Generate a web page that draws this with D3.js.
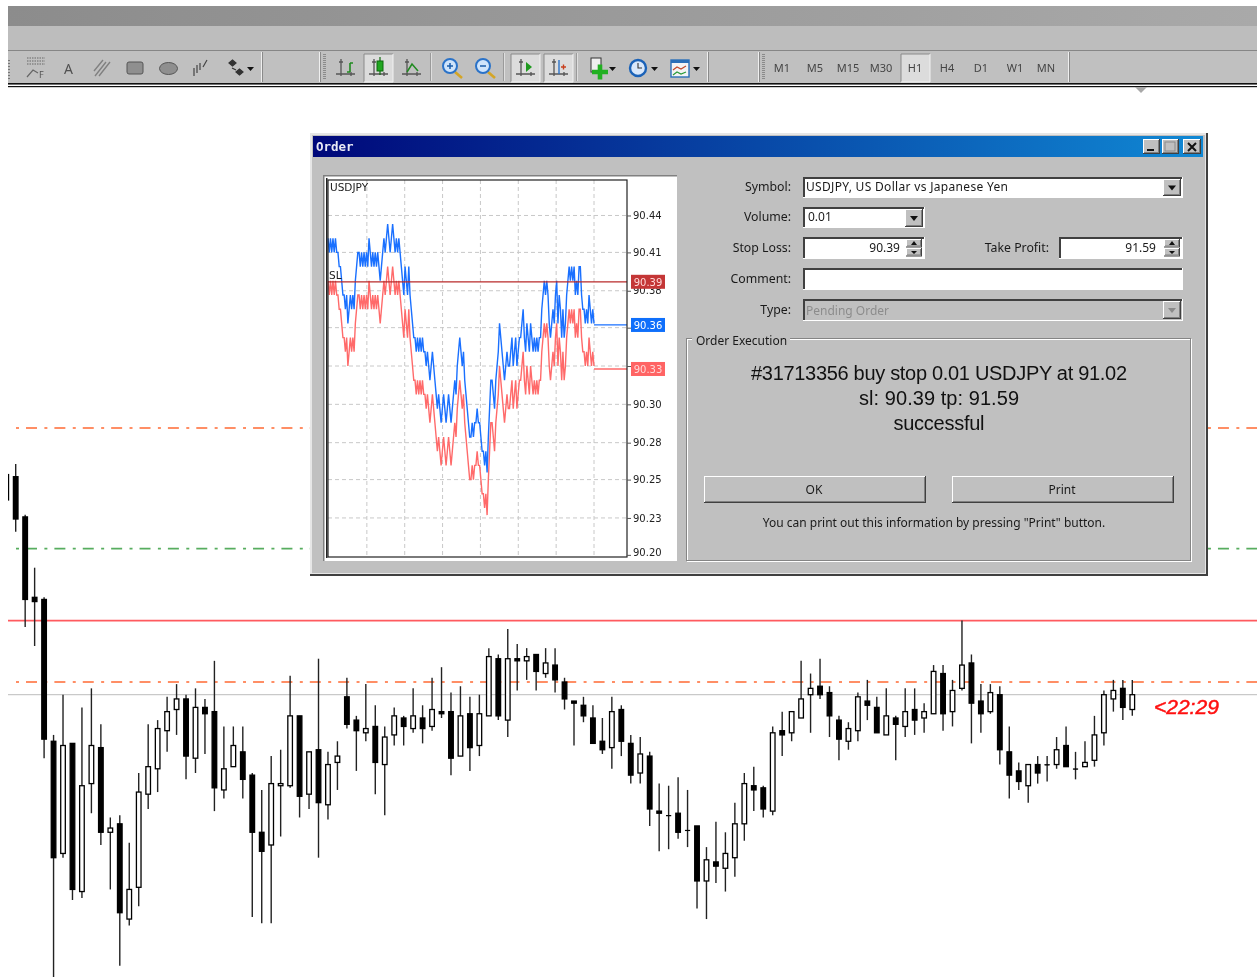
<!DOCTYPE html>
<html>
<head>
<meta charset="utf-8">
<title>USDJPY H1 order</title>
<script src="https://cdn.jsdelivr.net/npm/d3@7"></script>
<style>
html, body { margin: 0; padding: 0; background: #fff; overflow: hidden; }
svg { display: block; filter: blur(0.4px); }
text { font-family: "Noto Sans", sans-serif; fill: #1a1a1a; }
</style>
</head>
<body>
<div id="chart"></div>
<script>
// H1 candles
let highs = [91.37,91.42,91.18,90.93,90.79,90.14,90.33,90.10,90.27,90.36,
    90.19,89.75,89.76,89.63,89.96,90.19,90.21,90.32,90.38,90.33,
    90.36,90.31,90.49,90.18,90.18,90.18,89.96,89.88,90.04,90.07,
    90.42,90.23,90.06,90.50,90.06,90.11,90.41,90.23,90.38,90.28,
    90.18,90.27,90.23,90.36,90.28,90.41,90.46,90.34,90.37,90.32,
    90.33,90.55,90.52,90.64,90.57,90.55,90.52,90.55,90.55,90.41,
    90.30,90.32,90.28,90.22,90.32,90.28,90.14,90.13,90.06,89.91,
    89.90,89.94,89.88,89.71,89.61,89.73,89.68,89.82,89.96,89.99,
    89.90,90.18,90.25,90.25,90.49,90.43,90.50,90.37,90.23,90.20,
    90.34,90.40,90.32,90.36,90.23,90.36,90.36,90.29,90.47,90.47,
    90.40,90.68,90.52,90.38,90.38,90.37,90.18,90.01,90.00,90.04,
    90.04,90.13,90.18,90.06,90.11,90.23,90.35,90.40,90.40,90.40];
let lows = [91.25,91.10,90.65,90.56,90.03,88.99,89.56,89.36,89.37,89.77,
    89.62,89.41,89.05,89.24,89.33,89.79,89.87,90.06,90.14,89.93,
    89.96,90.05,89.78,89.84,89.99,89.84,89.28,89.25,89.25,89.66,
    89.89,89.75,89.79,89.56,89.74,89.88,90.17,89.97,90.11,89.86,
    89.76,90.09,90.09,90.15,90.10,90.16,90.22,89.95,90.04,89.97,
    90.04,90.23,90.21,90.13,90.35,90.40,90.35,90.41,90.34,90.26,
    90.09,90.20,90.10,90.05,89.98,90.04,89.91,89.91,89.71,89.59,
    89.60,89.65,89.61,89.32,89.27,89.44,89.40,89.47,89.64,89.78,
    89.75,89.76,90.04,90.11,90.22,90.15,90.31,90.13,90.02,90.07,
    90.11,90.21,90.15,90.14,90.02,90.13,90.14,90.15,90.24,90.16,
    90.18,90.35,90.10,90.15,90.24,90.00,89.84,89.88,89.82,89.91,
    89.92,89.98,89.99,89.93,89.99,89.99,90.09,90.25,90.21,90.23];
let opens = [91.37,91.36,91.17,90.79,90.78,90.11,89.58,90.10,89.40,89.91,
    90.08,89.68,89.72,89.27,89.42,89.86,89.98,90.16,90.26,90.31,
    90.03,90.27,90.25,89.88,89.99,90.06,89.95,89.68,89.62,89.90,
    89.90,90.23,89.86,90.07,89.81,90.01,90.32,90.21,90.15,90.18,
    90.00,90.14,90.22,90.17,90.22,90.18,90.25,90.25,90.04,90.24,
    90.09,90.23,90.50,90.21,90.50,90.49,90.52,90.43,90.47,90.39,
    90.30,90.28,90.22,90.11,90.08,90.26,90.10,89.96,90.04,89.78,
    89.76,89.77,89.69,89.71,89.45,89.54,89.51,89.56,89.72,89.90,
    89.89,89.78,90.16,90.15,90.22,90.33,90.37,90.34,90.21,90.11,
    90.16,90.30,90.27,90.14,90.22,90.18,90.26,90.22,90.24,90.43,
    90.25,90.36,90.48,90.30,90.25,90.33,90.06,89.97,89.90,90.00,
    90.00,90.00,90.09,89.98,89.99,90.02,90.15,90.31,90.36,90.26];
let closes = [91.25,91.16,90.78,90.77,90.12,89.56,90.09,89.41,89.90,90.09,
    89.68,89.70,89.30,89.41,89.87,89.99,90.17,90.25,90.31,90.04,
    90.27,90.24,89.89,89.98,90.09,89.93,89.68,89.59,89.91,89.91,
    90.23,89.85,90.06,89.82,90.00,90.04,90.19,90.16,90.17,90.01,
    90.13,90.23,90.18,90.23,90.17,90.26,90.24,90.03,90.23,90.08,
    90.24,90.51,90.23,90.50,90.49,90.51,90.44,90.48,90.40,90.31,
    90.29,90.23,90.10,90.07,90.25,90.11,89.95,90.05,89.79,89.77,
    89.76,89.68,89.69,89.45,89.55,89.52,89.58,89.72,89.91,89.88,
    89.79,90.15,90.14,90.25,90.31,90.36,90.33,90.23,90.12,90.17,
    90.32,90.28,90.15,90.23,90.19,90.25,90.21,90.25,90.44,90.24,
    90.35,90.47,90.29,90.24,90.34,90.07,89.95,89.92,90.00,89.96,
    90.00,90.07,89.99,89.98,90.01,90.14,90.33,90.35,90.27,90.33];

// price lines on the main chart
let takeProfit = 91.59;
let entryPrice = 91.02;
let stopLoss = 90.39;
let otherLevel = 90.68;
let bidLevel = 90.33;

// mini tick chart of the dialog, in points above 90.00
let askPoints = [42,41,42,41,42,41,42,41, 41,40,40, 39,38, 38,37,38,36, 37,38,37,38,37, 39,40,41,
    41,40,41,40,41,40,41,40, 42,41, 40,41,40,41,40,41, 40,39, 40,41, 42,41,42,43, 42,41,42,43,
    42,41,42,41,42,41, 40,39, 38,40,39,38,40,38, 37,36,35, 35,34,35,34,35,34,35,34,
    34,33,34,33,32,33,34, 33,32,31,30,31, 30,29,30,31,30,29,30,31,30,29,30, 31,32,31, 33,34,35,
    34,33,34,32, 31,30,29,28, 28,29,28,29, 29,30,29, 29,28,27, 27,26,27,25.5, 28,30,32, 32,31,30,
    32,33,34,36, 35,34,33,32, 33,34,33,33, 34,35,33,34,35,33,34,35, 35,36,37,
    35,34,36,35,34,36,35,34, 35,34,35,34,35, 35,37,38,39, 38,39,38, 36,35,36,37,36,38, 39,36,38,
    37,35,37,35,36, 38,39,40,39,40,39,40, 38,39,38,40, 40,38,37, 37,36,37,36,38,37,36,37,36];
let bidPoints = [39,38,39,38,39,38,39,38, 38,37,37, 36,35, 35,34,35,33, 34,35,34,35,34, 36,37,38,
    38,37,38,37,38,37,38,37, 39,38, 37,38,37,38,37,38, 37,36, 37,38, 39,38,39,40, 39,38,39,40,
    39,38,39,38,39,38, 37,36, 35,37,36,35,37,35, 34,33,32, 32,31,32,31,32,31,32,31,
    31,30,31,30,29,30,31, 30,29,28,27,28, 27,26,27,28,27,26,27,28,27,26,27, 28,29,28, 30,31,32,
    31,30,31,29, 28,27,26,25, 25,26,25,26, 26,27,26, 26,25,24, 24,23,24,22.5, 25,27,29, 29,28,27,
    29,30,31,33, 32,31,30,29, 30,31,30,30, 31,32,30,31,32,30,31,32, 32,33,34,
    32,31,33,32,31,33,32,31, 32,31,32,31,32, 32,34,35,36, 35,36,35, 33,32,33,34,33,35, 36,33,35,
    34,32,34,32,33, 35,36,37,36,37,36,37, 35,36,35,37, 37,35,34, 34,33,34,33,35,34,33,34,33];
let miniTickPrices = [90.436,90.41,90.383,90.357,90.33,90.303,90.276,90.25,90.223,90.197];
let miniTickLabels = ["90.44","90.41","90.38","90.36","90.33","90.30","90.28","90.25","90.23","90.20"];
let miniGridTimes = [1,2,3,4,5,6,7];
let miniFlags = ["90.39","90.36","90.33"];
let miniFlagPrices = [90.3893,90.3589,90.3279];
let miniFlagColors = ["#c43636","#0f6ffb","#ff6464"];

let timeframes = ["M1","M5","M15","M30","H1","H4","D1","W1","MN"];
let timeframeX = [782,815,848,881,915,947,981,1015,1046];

let width = 1257;
let height = 977;
let svg = d3.select("#chart").append("svg").attr("width", width).attr("height", height);
svg.append("rect").attr("width", width).attr("height", height).attr("fill", "#fff");

// ---- main chart ----
let x = d3.scaleLinear().domain([0, highs.length - 1]).range([6.24, 1132.3]);
let y = d3.scaleLinear().domain([stopLoss, takeProfit]).range([682, 428]);

svg.append("clipPath").attr("id", "plot_clip").append("rect")
    .attr("x", 8).attr("y", 88).attr("width", width - 8).attr("height", height - 88);
let plot = svg.append("g").attr("clip-path", "url(#plot_clip)");

// level lines first, candles paint over them
function levelLine(price, color, dash, x0, w) {
    plot.append("line")
        .attr("x1", x0).attr("x2", width)
        .attr("y1", y(price)).attr("y2", y(price))
        .attr("stroke", color).attr("stroke-width", w)
        .attr("stroke-dasharray", dash);
}
levelLine(bidLevel, "#c9c9c9", null, 8, 1.3);
levelLine(otherLevel, "#ff5a5f", null, 8, 1.6);
levelLine(takeProfit, "#ff6a33", "3 7 11 7.38", 16, 1.4);
levelLine(entryPrice, "#57ad5f", "3 7 11 7.38", 16, 1.6);
levelLine(stopLoss, "#ff6a33", "3 7 11 7.38", 16, 1.4);

let candles = highs.map((h, i) => ({i: i, h: h, l: lows[i], o: opens[i], c: closes[i]}));

plot.selectAll(".wick").data(candles).enter().append("line")
    .attr("class", "wick")
    .attr("x1", d => x(d.i)).attr("x2", d => x(d.i))
    .attr("y1", d => y(d.h)).attr("y2", d => y(d.l))
    .attr("stroke", "#222").attr("stroke-width", 1.4);

let bodyWidth = 4.6;
plot.selectAll(".body").data(candles).enter().append("rect")
    .attr("class", "body")
    .attr("x", d => x(d.i) - bodyWidth / 2)
    .attr("width", bodyWidth)
    .attr("y", d => y(Math.max(d.o, d.c)))
    .attr("height", d => Math.max(0.6, Math.abs(y(d.o) - y(d.c))))
    .attr("fill", d => d.c > d.o ? "#fff" : "#000")
    .attr("stroke", "#000").attr("stroke-width", d => d.c == d.o ? 0.6 : 1.3);

svg.append("text").attr("x", 1154).attr("y", 714)
    .style("font-family", "'Liberation Sans'").style("font-style", "italic")
    .style("font-size", "21px").style("fill", "#ff1010")
    .style("stroke", "#ff1010").style("stroke-width", 0.5)
    .text("<22:29");

// ---- toolbar ----
let bar = svg.append("g");
let titleGrad = svg.append("linearGradient").attr("id", "top_grad");
titleGrad.append("stop").attr("offset", "0%").attr("stop-color", "#8c8c8c");
titleGrad.append("stop").attr("offset", "100%").attr("stop-color", "#a9a9a9");

function box(parent, bx, by, w, h, fill) {
    return parent.append("rect").attr("x", bx).attr("y", by).attr("width", w).attr("height", h).attr("fill", fill);
}
box(bar, 8, 6, width - 8, 20, "url(#top_grad)");
box(bar, 8, 26, width - 8, 24, "#bdbdbd");
box(bar, 8, 50, width - 8, 1, "#868686");
box(bar, 8, 51, width - 8, 32, "#c0c0c0");
box(bar, 8, 83, width - 8, 1.6, "#111");
box(bar, 8, 86, width - 8, 1.2, "#111");
bar.append("path").attr("d", "M1135,87 L1147,87 L1141,93 Z").attr("fill", "#a8a8a8");

function separator(sx) {
    box(bar, sx, 52, 1, 30, "#efefef");
    box(bar, sx + 1, 52, 1, 30, "#8a8a8a");
}
function groove(sx) {
    box(bar, sx - 1, 53, 1, 28, "#9a9a9a");
    box(bar, sx, 53, 1, 28, "#dedede");
}
function grip(gx) {
    for (let gy = 54; gy < 80; gy += 2) box(bar, gx, gy, 3, 1, "#8a8a8a");
}
[261, 319, 707, 758, 1068].forEach(separator);
[431, 504, 577].forEach(groove);
grip(323);
grip(762);
for (let gy = 60; gy < 80; gy += 3) box(bar, 8, gy, 2, 1, "#777");

function pressed(px) {
    box(bar, px - 14, 54, 29, 28, "#dcdcdc");
    bar.append("path").attr("d", `M${px - 14},82 V54 H${px + 15}`).attr("fill", "none").attr("stroke", "#8a8a8a");
    bar.append("path").attr("d", `M${px + 15},54 V82 H${px - 14}`).attr("fill", "none").attr("stroke", "#f2f2f2");
}
[378, 525, 558, 915].forEach(pressed);

function axesIcon(ax) {
    bar.append("path").attr("d", `M${ax - 4},59 V76 M${ax - 9},74 H${ax + 10} M${ax - 6},62 h4 M${ax + 6},72 v4`)
        .attr("fill", "none").attr("stroke", "#555").attr("stroke-width", 1.3);
}
function dropArrow(ax) {
    bar.append("path").attr("d", `M${ax - 3},67 h7 l-3.5,4 Z`).attr("fill", "#111");
}
function iconPath(d, stroke, fill, w) {
    bar.append("path").attr("d", d).attr("fill", fill || "none").attr("stroke", stroke).attr("stroke-width", w || 1.2);
}

// fibo
for (let fy = 58; fy < 66; fy += 3) {
    bar.append("line").attr("x1", 27).attr("x2", 45).attr("y1", fy).attr("y2", fy)
        .attr("stroke", "#666").attr("stroke-dasharray", "1.5 1");
}
iconPath("M27,77 L33,70 L38,73", "#666");
bar.append("text").attr("x", 39).attr("y", 78).style("font-size", "9px").style("fill", "#555").text("F");
// text, channel, rectangle, ellipse, wave, arrows
bar.append("text").attr("x", 64).attr("y", 74).style("font-size", "14px").style("fill", "#505050").text("A");
iconPath("M95,76 L106,62 M99,76 L110,62 M94,71 L103,60", "#808080", null, 1.4);
bar.append("rect").attr("x", 127).attr("y", 62).attr("width", 16).attr("height", 12).attr("rx", 2)
    .attr("fill", "#8f8f8f").attr("stroke", "#555");
bar.append("ellipse").attr("cx", 168.5).attr("cy", 68.5).attr("rx", 9).attr("ry", 6)
    .attr("fill", "#8f8f8f").attr("stroke", "#555");
iconPath("M194,76 V68 M197,73 V65 M200,70 V63 M203,67 L207,60", "#444");
iconPath("M229,63 l3.5,-3 l3.5,3 l-3.5,3 Z M236,72 l3.5,-3 l3.5,3 l-3.5,3 Z M232,68 l4,2", "#333", "#333");
dropArrow(250);
// chart types
axesIcon(345);
iconPath("M350,63 V72 M350,63 h3 M350,72 h-3", "#1f8a1f", null, 1.6);
axesIcon(378);
iconPath("M380,57 V75", "#0d6a0d");
bar.append("rect").attr("x", 377).attr("y", 61).attr("width", 6).attr("height", 10).attr("fill", "#21a721").attr("stroke", "#0d6a0d");
axesIcon(411);
iconPath("M407,72 L412,64 L418,71", "#1f8a1f", null, 1.5);
// zoom
function zoomIcon(zx, plus) {
    iconPath(`M${zx + 4},72 L${zx + 11},78`, "#d4a526", null, 2.6);
    bar.append("circle").attr("cx", zx - 1).attr("cy", 66).attr("r", 7).attr("fill", "#cfe4fb").attr("stroke", "#2a72c8").attr("stroke-width", 2);
    iconPath(plus ? `M${zx - 4},66 h6 M${zx - 1},63 v6` : `M${zx - 4},66 h6`, "#1a5caa", null, 1.5);
}
zoomIcon(451, true);
zoomIcon(484, false);
axesIcon(525);
bar.append("path").attr("d", "M526,62 l6,5 l-6,5 Z").attr("fill", "#1f9a1f");
axesIcon(558);
iconPath("M559,60 V74", "#2a72c8", null, 1.4);
iconPath("M561,67 h5 M563.5,64.5 v5", "#c8401e", null, 1.4);
// new order, clock, templates
bar.append("rect").attr("x", 591).attr("y", 58).attr("width", 10).attr("height", 14).attr("fill", "#eee").attr("stroke", "#333");
iconPath("M592,72 h16 M600,64.5 v15", "#22b022", null, 4.6);
dropArrow(612);
bar.append("circle").attr("cx", 638).attr("cy", 68).attr("r", 8).attr("fill", "#d9e8fb").attr("stroke", "#1a62b8").attr("stroke-width", 2.4);
iconPath("M638,63 V68 H642", "#333", null, 1.1);
dropArrow(654);
bar.append("rect").attr("x", 671).attr("y", 60).attr("width", 18).attr("height", 17).attr("fill", "#f4f4f4").attr("stroke", "#2a6fb8").attr("stroke-width", 1.4);
box(bar, 671, 60, 18, 3, "#2a6fb8");
iconPath("M673,70 l4,-3 l4,2 l5,-3", "#c24a2a");
iconPath("M673,75 l4,-3 l4,2 l5,-2", "#2a9a3a");
dropArrow(696);

bar.selectAll(".tf").data(timeframes).enter().append("text")
    .attr("class", "tf")
    .attr("x", (d, i) => timeframeX[i]).attr("y", 72)
    .attr("text-anchor", "middle")
    .style("font-size", "11px").style("fill", "#444")
    .text(d => d);

// ---- order dialog ----
let dlg = svg.append("g");
box(dlg, 310, 133, 898, 443, "#404040");
box(dlg, 310, 133, 896, 441, "#e6e6e6");
box(dlg, 312, 135, 893, 438, "#c0c0c0");
let winGrad = svg.append("linearGradient").attr("id", "win_grad");
winGrad.append("stop").attr("offset", "0%").attr("stop-color", "#00087a");
winGrad.append("stop").attr("offset", "100%").attr("stop-color", "#1088d4");
box(dlg, 313, 136, 890, 21, "url(#win_grad)");
dlg.append("text").attr("x", 316).attr("y", 151)
    .style("font-family", "'DejaVu Sans Mono'").style("font-weight", "bold")
    .style("font-size", "12.5px").style("fill", "#e8e8f4")
    .text("Order");

function raised(g, bx, by, w, h) {
    box(g, bx, by, w, h, "#404040");
    box(g, bx, by, w - 1, h - 1, "#fff");
    box(g, bx + 1, by + 1, w - 2, h - 2, "#808080");
    box(g, bx + 1, by + 1, w - 3, h - 3, "#c0c0c0");
}
function sunken(g, bx, by, w, h, fill) {
    box(g, bx, by, w, h, "#fff");
    box(g, bx, by, w - 1, h - 1, "#404040");
    box(g, bx + 2, by + 2, w - 3, h - 3, fill);
}

// window buttons
raised(dlg, 1143, 139, 17, 15);
box(dlg, 1147, 149, 7, 2, "#111");
raised(dlg, 1162, 139, 17, 15);
dlg.append("rect").attr("x", 1165).attr("y", 142).attr("width", 10).attr("height", 9).attr("fill", "none").attr("stroke", "#8a8a8a");
raised(dlg, 1183, 139, 18, 15);
dlg.append("path").attr("d", "M1188,143 L1196,151 M1196,143 L1188,151").attr("stroke", "#111").attr("stroke-width", 2);

// mini chart panel
box(dlg, 324, 175, 353, 386, "#fff");
box(dlg, 323, 175, 354, 1.5, "#808080");
box(dlg, 323, 175, 1.5, 386, "#808080");
box(dlg, 326, 178, 1.5, 380, "#222");

let miniX = d3.scaleLinear().domain([0, askPoints.length - 1]).range([328, 594]);
let miniY = d3.scaleLinear().domain([90.33, 90.43]).range([366, 224]);
let gridX = d3.scaleLinear().domain([0, 7]).range([329, 594]);
let plotLeft = 328, plotRight = 627, plotTop = 180, plotBottom = 557;

let mini = dlg.append("g");
mini.selectAll(".gx").data(miniGridTimes).enter().append("line")
    .attr("class", "gx")
    .attr("x1", d => gridX(d)).attr("x2", d => gridX(d))
    .attr("y1", plotTop).attr("y2", plotBottom)
    .attr("stroke", "#c8c8c8").attr("stroke-dasharray", "4 3");
mini.selectAll(".gy").data(miniTickPrices.slice(0, 9)).enter().append("line")
    .attr("class", "gy")
    .attr("x1", plotLeft).attr("x2", plotRight)
    .attr("y1", d => miniY(d)).attr("y2", d => miniY(d))
    .attr("stroke", "#c8c8c8").attr("stroke-dasharray", "4 3");

let pointLine = d3.line().x((d, i) => miniX(i)).y(d => miniY(90 + d / 100));
mini.append("path").attr("d", pointLine(bidPoints)).attr("fill", "none").attr("stroke", "#ff6a6a").attr("stroke-width", 1.4);
mini.append("path").attr("d", pointLine(askPoints)).attr("fill", "none").attr("stroke", "#1a70ff").attr("stroke-width", 1.4);

// last quote runs flat up to the chart edge
mini.append("line").attr("x1", miniX(askPoints.length - 1)).attr("x2", plotRight)
    .attr("y1", miniY(miniFlagPrices[1])).attr("y2", miniY(miniFlagPrices[1])).attr("stroke", "#1a70ff").attr("stroke-width", 1.3);
mini.append("line").attr("x1", miniX(bidPoints.length - 1)).attr("x2", plotRight)
    .attr("y1", miniY(miniFlagPrices[2])).attr("y2", miniY(miniFlagPrices[2])).attr("stroke", "#ff6a6a").attr("stroke-width", 1.3);
mini.append("line").attr("x1", plotLeft).attr("x2", plotRight)
    .attr("y1", miniY(miniFlagPrices[0])).attr("y2", miniY(miniFlagPrices[0])).attr("stroke", "#b82a2a").attr("stroke-width", 1.3);

mini.append("rect").attr("x", plotLeft).attr("y", plotTop)
    .attr("width", plotRight - plotLeft).attr("height", plotBottom - plotTop)
    .attr("fill", "none").attr("stroke", "#222").attr("stroke-width", 1.2);

let miniAxis = d3.axisRight(miniY)
    .tickValues(miniTickPrices)
    .tickFormat((d, i) => miniTickLabels[i])
    .tickSize(4).tickPadding(2);
let miniAxisG = mini.append("g").attr("transform", `translate(${plotRight},0)`).call(miniAxis);
miniAxisG.select(".domain").remove();
miniAxisG.selectAll("line").attr("stroke", "#555");
miniAxisG.selectAll("text")
    .style("font-family", "'DejaVu Sans'").style("font-size", "10px").style("fill", "#222")
    .attr("y", (d, i) => i == 9 ? -3 : 0);

mini.selectAll(".flag").data(miniFlags).enter().append("rect")
    .attr("class", "flag")
    .attr("x", 631).attr("width", 34)
    .attr("y", (d, i) => miniY(miniFlagPrices[i]) - 7).attr("height", 14)
    .attr("fill", (d, i) => miniFlagColors[i]);
mini.selectAll(".flagt").data(miniFlags).enter().append("text")
    .attr("class", "flagt")
    .attr("x", 648).attr("text-anchor", "middle")
    .attr("y", (d, i) => miniY(miniFlagPrices[i]) + 4)
    .style("font-family", "'DejaVu Sans'").style("font-size", "10px")
    .style("fill", (d, i) => i == 1 ? "#fff" : "#ffd8d8")
    .text(d => d);

mini.append("text").attr("x", 330).attr("y", 191)
    .style("font-family", "'DejaVu Sans'").style("font-size", "10.5px").text("USDJPY");
mini.append("text").attr("x", 329).attr("y", 279)
    .style("font-family", "'DejaVu Sans'").style("font-size", "10.5px").text("SL");

// order form
function label(txt, lx, ly) {
    dlg.append("text").attr("x", lx).attr("y", ly).attr("text-anchor", "end")
        .style("font-size", "12.3px").text(txt);
}
function comboArrow(ax, ay, w, h, color) {
    raised(dlg, ax, ay, w, h);
    dlg.append("path").attr("d", `M${ax + w / 2 - 4},${ay + h / 2 - 2} h8 l-4,5 Z`).attr("fill", color || "#111");
}
function spinner(sx, sy) {
    raised(dlg, sx, sy, 16, 8.5);
    raised(dlg, sx, sy + 9, 16, 8.5);
    dlg.append("path").attr("d", `M${sx + 8},${sy + 2} l3,4 h-6 Z M${sx + 5},${sy + 12} h6 l-3,3 Z`).attr("fill", "#111");
}
label("Symbol:", 791, 191);
sunken(dlg, 803, 177, 380, 21, "#fff");
comboArrow(1163, 179, 18, 17);
dlg.append("text").attr("x", 806).attr("y", 191).attr("textLength", 202).style("font-size", "12px").text("USDJPY, US Dollar vs Japanese Yen");

label("Volume:", 791, 221);
sunken(dlg, 803, 207, 122, 21, "#fff");
comboArrow(905, 209, 18, 18);
dlg.append("text").attr("x", 808).attr("y", 221).style("font-size", "12px").text("0.01");

label("Stop Loss:", 791, 252);
sunken(dlg, 803, 237, 122, 22, "#fff");
spinner(906, 239);
dlg.append("text").attr("x", 900).attr("y", 252).attr("text-anchor", "end").style("font-size", "12px").text("90.39");

label("Take Profit:", 1049, 252);
sunken(dlg, 1059, 237, 124, 22, "#fff");
spinner(1164, 239);
dlg.append("text").attr("x", 1156).attr("y", 252).attr("text-anchor", "end").style("font-size", "12px").text("91.59");

label("Comment:", 791, 283);
sunken(dlg, 803, 268, 380, 22, "#fff");

label("Type:", 791, 314);
sunken(dlg, 803, 299, 380, 22, "#c0c0c0");
comboArrow(1163, 301, 18, 18, "#8a8a8a");
dlg.append("text").attr("x", 806).attr("y", 315).style("font-size", "12px").style("fill", "#8c8c8c").text("Pending Order");

// order execution group
dlg.append("rect").attr("x", 687.5).attr("y", 339.5).attr("width", 504).attr("height", 222).attr("fill", "none").attr("stroke", "#fff");
dlg.append("rect").attr("x", 686.5).attr("y", 338.5).attr("width", 504).attr("height", 222).attr("fill", "none").attr("stroke", "#858585");
box(dlg, 692, 335, 98, 10, "#c0c0c0");
dlg.append("text").attr("x", 696).attr("y", 345).style("font-size", "12px").text("Order Execution");

let resultLines = ["#31713356 buy stop 0.01 USDJPY at 91.02", "sl: 90.39 tp: 91.59", "successful"];
let resultWidths = [376, 160, 91];
dlg.selectAll(".result").data(resultLines).enter().append("text")
    .attr("class", "result")
    .attr("x", 939).attr("y", (d, i) => 380 + i * 25)
    .attr("text-anchor", "middle")
    .attr("textLength", (d, i) => resultWidths[i])
    .style("font-family", "'Liberation Sans'").style("font-size", "20px").style("fill", "#111")
    .text(d => d);

raised(dlg, 704, 476, 222, 27);
raised(dlg, 952, 476, 222, 27);
dlg.append("text").attr("x", 814).attr("y", 494).attr("text-anchor", "middle").style("font-size", "12px").text("OK");
dlg.append("text").attr("x", 1062).attr("y", 494).attr("text-anchor", "middle").style("font-size", "12px").text("Print");
dlg.append("text").attr("x", 934).attr("y", 527).attr("text-anchor", "middle").style("font-size", "12px")
    .text("You can print out this information by pressing \"Print\" button.");
</script>
</body>
</html>
